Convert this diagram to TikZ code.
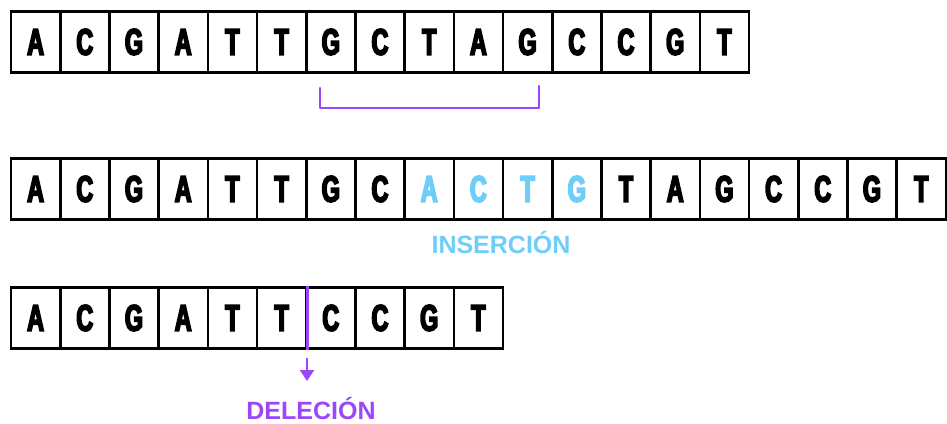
\documentclass[tikz,border=0pt]{standalone}
\usepackage{fontspec}
\usetikzlibrary{arrows.meta}
% condensed heavy face for the bases, plain bold for the captions
\newfontfamily\basefont[FakeStretch=0.63,FakeBold=4.5]{Liberation Sans Bold}
\newfontfamily\labelfont{Liberation Sans Bold}
\definecolor{insblue}{HTML}{6FCDF7}
\definecolor{delpurple}{HTML}{9B46FA}
\tikzset{
  base/.style={draw=black, line width=2.6pt, fill=white, rectangle,
    minimum width=49.2pt, minimum height=61.5pt, inner sep=0pt,
    font=\basefont\fontsize{37}{37}\selectfont},
  caption/.style={font=\labelfont\fontsize{25}{25}\selectfont, inner sep=0pt},
  mark line/.style={draw=delpurple, line width=2.4pt},
}
\begin{document}
\begin{tikzpicture}[x=1pt,y=-1pt]
\useasboundingbox (0,0) rectangle (947,423);
% original strand
\foreach \b [count=\i] in {A,C,G,A,T,T,G,C,T,A,G,C,C,G,T}
  \node[base] (r1-\i) at ({11+49.2*(\i-0.5)},42) {\b};
% strand with the inserted bases ACTG (positions 9 to 12)
\foreach \b [count=\i] in {A,C,G,A,T,T,G,C,A,C,T,G,T,A,G,C,C,G,T}{
  \ifnum\i>8 \ifnum\i<13
    \node[base, text=insblue] (r2-\i) at ({11+49.2*(\i-0.5)},189) {\b};
  \else
    \node[base] (r2-\i) at ({11+49.2*(\i-0.5)},189) {\b};
  \fi\else
    \node[base] (r2-\i) at ({11+49.2*(\i-0.5)},189) {\b};
  \fi}
% strand with the deleted segment
\foreach \b [count=\i] in {A,C,G,A,T,T,C,C,G,T}
  \node[base] (r3-\i) at ({11+49.2*(\i-0.5)},318) {\b};
% bracket below the segment that gets removed
\coordinate (brL) at (320,88);
\coordinate (brR) at (539,86);
\coordinate (brB) at (539,108);
\draw[mark line, line cap=round, line join=round] (brL) |- (brB) -- (brR);
% insertion caption
\node[caption, text=insblue] (ins) at (501,243) {INSERCIÓN};
% deletion point and arrow
\draw[mark line] (r3-6.north east) -- (r3-6.south east);
\coordinate (dA) at (307,358);
\coordinate (dB) at (307,381);
\draw[mark line, -{Triangle[width=14pt,length=11pt]}] (dA) -- (dB);
\node[caption, text=delpurple] (del) at (311,409) {DELECIÓN};
\end{tikzpicture}
\end{document}
